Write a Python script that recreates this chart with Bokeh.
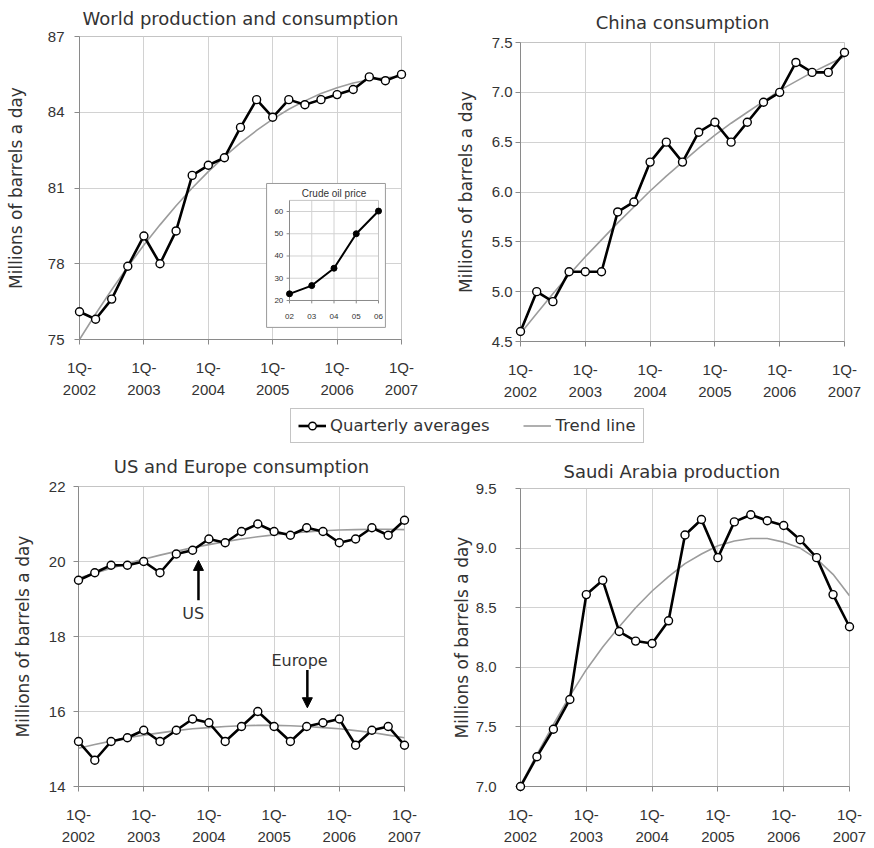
from bokeh.plotting import figure
from bokeh.layouts import column, row
from bokeh.models import (Range1d, FixedTicker, Legend, LegendItem, Arrow, NormalHead,
                          Label, NumeralTickFormatter)
from bokeh.embed import file_html
from bokeh.resources import INLINE
from bokeh.core.properties import value

# ---------------- data ----------------
quarters = [2002 + i / 4 for i in range(21)]          # 1Q-2002 ... 1Q-2007
year_ticks = [2002, 2003, 2004, 2005, 2006, 2007]
year_labels = ["1Q-\n2002", "1Q-\n2003", "1Q-\n2004", "1Q-\n2005", "1Q-\n2006", "1Q-\n2007"]

world_values = [76.1, 75.8, 76.6, 77.9, 79.1, 78.0, 79.3, 81.5, 81.9, 82.2, 83.4,
                84.5, 83.8, 84.5, 84.3, 84.5, 84.7, 84.9, 85.4, 85.25, 85.5]
world_trend = [75.0, 76.01, 76.97, 77.88, 78.74, 79.54, 80.30, 81.0, 81.65, 82.24, 82.79,
               83.28, 83.73, 84.12, 84.45, 84.74, 84.97, 85.16, 85.29, 85.37, 85.40]
world_ticks = [75, 78, 81, 84, 87]

china_values = [4.6, 5.0, 4.9, 5.2, 5.2, 5.2, 5.8, 5.9, 6.3, 6.5, 6.3,
                6.6, 6.7, 6.5, 6.7, 6.9, 7.0, 7.3, 7.2, 7.2, 7.4]
china_trend = [4.58, 4.78, 4.98, 5.17, 5.35, 5.52, 5.69, 5.85, 6.01, 6.16, 6.30,
               6.44, 6.57, 6.69, 6.80, 6.91, 7.02, 7.11, 7.20, 7.28, 7.36]
china_ticks = [4.5, 5.0, 5.5, 6.0, 6.5, 7.0, 7.5]

us_values = [19.5, 19.7, 19.9, 19.9, 20.0, 19.7, 20.2, 20.3, 20.6, 20.5, 20.8,
             21.0, 20.8, 20.7, 20.9, 20.8, 20.5, 20.6, 20.9, 20.7, 21.1]
us_trend = [19.55, 19.69, 19.82, 19.95, 20.06, 20.17, 20.27, 20.37, 20.45, 20.53, 20.60,
            20.66, 20.71, 20.76, 20.79, 20.82, 20.84, 20.85, 20.86, 20.86, 20.85]
europe_values = [15.2, 14.7, 15.2, 15.3, 15.5, 15.2, 15.5, 15.8, 15.7, 15.2, 15.6,
                 16.0, 15.6, 15.2, 15.6, 15.7, 15.8, 15.1, 15.5, 15.6, 15.1]
europe_trend = [15.02, 15.12, 15.21, 15.30, 15.37, 15.43, 15.49, 15.54, 15.57, 15.60, 15.62,
                15.63, 15.63, 15.62, 15.60, 15.57, 15.54, 15.49, 15.44, 15.37, 15.30]
useu_ticks = [14, 16, 18, 20, 22]

saudi_values = [7.0, 7.25, 7.48, 7.73, 8.61, 8.73, 8.30, 8.22, 8.20, 8.39, 9.11,
                9.24, 8.92, 9.22, 9.28, 9.23, 9.19, 9.07, 8.92, 8.61, 8.34]
saudi_trend = [7.01, 7.27, 7.52, 7.76, 7.98, 8.17, 8.34, 8.50, 8.64, 8.76, 8.87,
               8.95, 9.02, 9.06, 9.08, 9.08, 9.05, 9.00, 8.91, 8.78, 8.60]
saudi_ticks = [7.0, 7.5, 8.0, 8.5, 9.0, 9.5]

inset_years = [2002, 2003, 2004, 2005, 2006]
inset_year_labels = ["02", "03", "04", "05", "06"]
inset_price = [23.0, 26.7, 34.5, 50.0, 60.2]
inset_price_ticks = [20, 30, 40, 50, 60]
inset_price_labels = ["20", "30", "40", "50", "60"]

# ---------------- styling ----------------
TXT = "#333333"
FONT = "DejaVu Sans"
TICKFONT = "Liberation Sans"
GRID = "#d2d2d2"
AXIS = "#8a8a8a"
TREND = "#9c9c9c"


def panel(title, w, h, left, right, top, bottom, yr, yticks, fmt,
          ylabel_standoff, yaxis_label_standoff, title_standoff,
          title_align="center", title_offset=0):
    p = figure(width=w, height=h, x_range=Range1d(2002, 2007), y_range=Range1d(*yr),
               output_backend="svg", toolbar_location=None,
               min_border_left=left, min_border_right=right,
               min_border_top=top, min_border_bottom=bottom, title=title)
    p.title.align = title_align
    p.title.vertical_align = "top"
    p.title.text_font = FONT
    p.title.text_font_size = "18px"
    p.title.text_font_style = "normal"
    p.title.text_color = TXT
    p.title.standoff = title_standoff
    p.title.offset = title_offset

    p.xaxis.ticker = FixedTicker(ticks=year_ticks)
    p.xaxis.major_label_overrides = {t: l for t, l in zip(year_ticks, year_labels)}
    p.xaxis.major_label_text_line_height = 1.35
    p.xaxis.major_label_standoff = 14

    p.yaxis.ticker = FixedTicker(ticks=yticks)
    if fmt:
        p.yaxis.formatter = NumeralTickFormatter(format=fmt)
    p.yaxis.major_label_standoff = ylabel_standoff
    p.yaxis.axis_label = "Millions of barrels a day"
    p.yaxis.axis_label_text_font = FONT
    p.yaxis.axis_label_text_font_size = "17px"
    p.yaxis.axis_label_text_font_style = "normal"
    p.yaxis.axis_label_text_color = TXT
    p.yaxis.axis_label_standoff = yaxis_label_standoff

    p.axis.major_label_text_font = TICKFONT
    p.axis.major_label_text_font_size = "15px"
    p.axis.major_label_text_color = TXT
    p.axis.axis_line_color = AXIS
    p.axis.major_tick_line_color = AXIS
    p.axis.major_tick_in = 0
    p.axis.major_tick_out = 5
    p.axis.minor_tick_line_color = None

    p.grid.grid_line_color = GRID
    p.outline_line_color = "#c4c4c4"
    return p


def series(p, vals, trend):
    p.line(quarters, trend, line_color=TREND, line_width=1.6)
    p.line(quarters, vals, line_color="black", line_width=2.6)
    p.scatter(quarters, vals, marker="circle", size=8, fill_color="white",
              line_color="black", line_width=1.4, level="overlay")


# World
p1 = panel("World production and consumption", 440, 405, 79, 39, 36, 66,
           (75, 87), world_ticks, None, 10, 19, 11)
series(p1, world_values, world_trend)

# inset (crude oil price) drawn in its own sub-coordinates
ins = p1.subplot(x_source=Range1d(2002, 2006), y_source=Range1d(20, 60),
                 x_target=Range1d(2005.261, 2006.643), y_target=Range1d(76.545, 80.069))
ins.quad(left=2000.97, right=2006.31, bottom=7.9, top=72.6,
         fill_color="white", line_color="#9a9a9a", line_width=1)
ins.segment(x0=inset_years[1:-1], y0=[inset_price_ticks[0]] * 3,
            x1=inset_years[1:-1], y1=[65] * 3, line_color=GRID, line_width=1)
ins.segment(x0=[inset_years[0]] * 4, y0=inset_price_ticks[1:],
            x1=[inset_years[-1]] * 4, y1=inset_price_ticks[1:], line_color=GRID, line_width=1)
ins.segment(x0=[inset_years[0], inset_years[-1]], y0=[65, 65],
            x1=[inset_years[-1], inset_years[-1]], y1=[65, inset_price_ticks[0]],
            line_color="#c4c4c4", line_width=1)
ins.segment(x0=[inset_years[0], inset_years[0]], y0=[inset_price_ticks[0], inset_price_ticks[0]],
            x1=[inset_years[-1], inset_years[0]], y1=[inset_price_ticks[0], 65],
            line_color=AXIS, line_width=1)
ins.segment(x0=inset_years, y0=[inset_price_ticks[0]] * 5,
            x1=inset_years, y1=[18.7] * 5, line_color=AXIS, line_width=1)
ins.segment(x0=[inset_years[0]] * 5, y0=inset_price_ticks,
            x1=[2001.87] * 5, y1=inset_price_ticks, line_color=AXIS, line_width=1)
ins.text(x=[2001.72] * 5, y=inset_price_ticks, text=inset_price_labels,
         text_align="right", text_baseline="middle", text_font=value(TICKFONT),
         text_font_size="8px", text_color=TXT)
ins.text(x=inset_years, y=[12.6] * 5, text=inset_year_labels,
         text_align="center", text_baseline="middle", text_font=value(TICKFONT),
         text_font_size="8px", text_color=TXT)
ins.text(x=[2004], y=[68.3], text=["Crude oil price"], text_align="center",
         text_baseline="middle", text_font=value(TICKFONT), text_font_size="10px",
         text_color=TXT)
ins.line(inset_years, inset_price, line_color="black", line_width=2)
ins.scatter(inset_years, inset_price, marker="circle", size=6, fill_color="black",
            line_color="black")

# China
p2 = panel("China consumption", 434, 405, 80, 30, 42, 64,
           (4.5, 7.5), china_ticks, "0.0", 3, 13, 16)
series(p2, china_values, china_trend)

# US and Europe
p3 = panel("US and Europe consumption", 440, 403, 78, 36, 41, 61,
           (14, 22), useu_ticks, None, 8, 13, 16)
series(p3, us_values, us_trend)
series(p3, europe_values, europe_trend)
p3.add_layout(Arrow(end=NormalHead(size=10, fill_color="black", line_color="black"),
                    x_start=2003.84, y_start=18.97, x_end=2003.84, y_end=20.03,
                    line_color="black", line_width=2.5))
p3.add_layout(Arrow(end=NormalHead(size=10, fill_color="black", line_color="black"),
                    x_start=2005.51, y_start=17.11, x_end=2005.51, y_end=16.10,
                    line_color="black", line_width=2.5))
p3.add_layout(Label(x=2003.76, y=18.62, text="US", text_align="center",
                    text_baseline="middle", text_font=FONT, text_font_size="16px",
                    text_color=TXT))
p3.add_layout(Label(x=2005.39, y=17.37, text="Europe", text_align="center",
                    text_baseline="middle", text_font=FONT, text_font_size="16px",
                    text_color=TXT))

# Saudi Arabia
p4 = panel("Saudi Arabia production", 434, 403, 80, 25, 43, 58,
           (7.0, 9.5), saudi_ticks, "0.0", 19, 1, 10, "left", 43)
series(p4, saudi_values, saudi_trend)

# Legend row (sample renderers hold one point outside the visible range)
pl = figure(width=874, height=40, x_range=Range1d(0, 1), y_range=Range1d(0, 1),
            output_backend="svg", toolbar_location=None, min_border=0,
            x_axis_location=None, y_axis_location=None)
pl.grid.visible = False
pl.outline_line_color = None
r_line = pl.line(x=[-5, -4], y=[-5, -4], line_color="black", line_width=2.6)
r_mark = pl.scatter(x=[-5], y=[-5], marker="circle", size=8, fill_color="white",
                    line_color="black", line_width=1.4)
r_trend = pl.line(x=[-5, -4], y=[-5, -4], line_color=TREND, line_width=1.6)
legend = Legend(items=[LegendItem(label="Quarterly averages", renderers=[r_line, r_mark]),
                       LegendItem(label="Trend line", renderers=[r_trend])],
                orientation="horizontal", location=(290, 2),
                label_text_font=FONT, label_text_font_size="16.5px", label_text_color=TXT,
                border_line_color="#8a8a8a", border_line_width=1, padding=7,
                spacing=34, glyph_width=28, glyph_height=19, label_standoff=4,
                label_height=19, margin=0)
pl.add_layout(legend, "center")

layout = column(row(column(p1), column(p2)), pl, row(column(p3), column(p4)))
open("out.html", "w").write(file_html(layout, INLINE))
